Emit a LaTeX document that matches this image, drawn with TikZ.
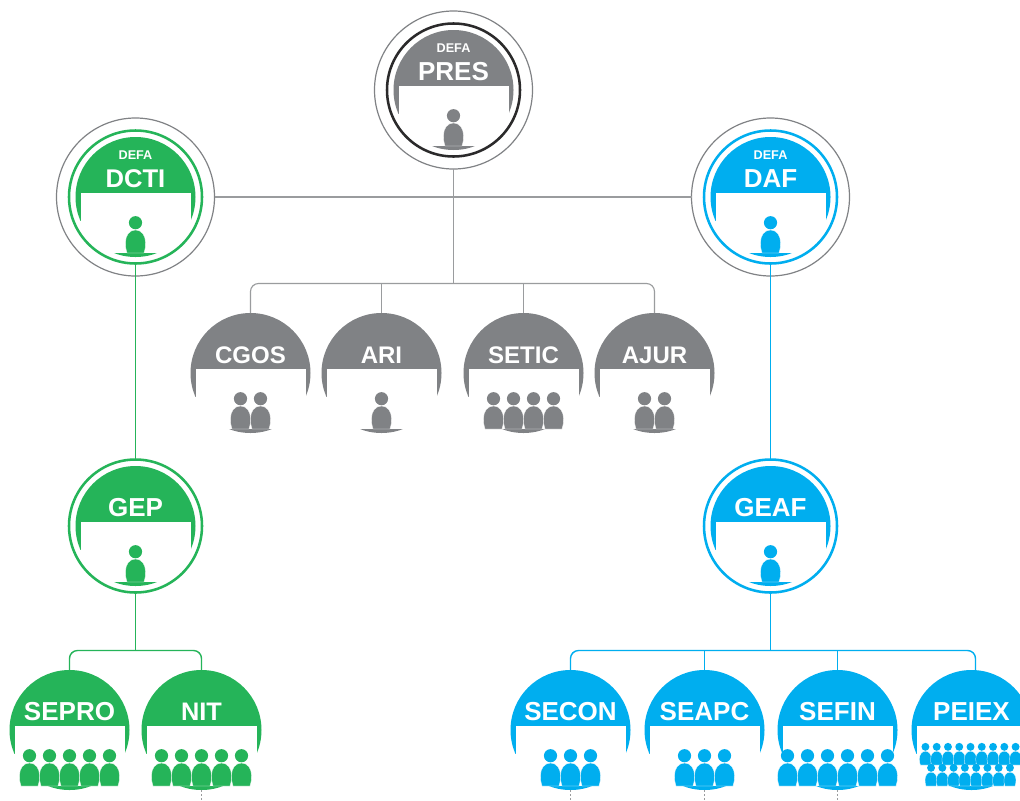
\documentclass[tikz,border=0pt]{standalone}
\usepackage{fontspec}
\setmainfont{Liberation Sans}
\definecolor{gr}{HTML}{808285}
\definecolor{lg}{HTML}{9A9C9E}
\definecolor{gn}{HTML}{25B459}
\definecolor{bl}{HTML}{00AEEF}
\definecolor{dk}{HTML}{2B2A2B}
\tikzset{
  disc/.style={circle,minimum size=90pt,inner sep=0pt,outer sep=0pt,fill=#1},
  ringa/.style={circle,minimum size=99.75pt,inner sep=0pt,outer sep=0pt,draw=#1,line width=1.9pt},
  ringb/.style={circle,minimum size=118.5pt,inner sep=0pt,outer sep=0pt,draw=#1,line width=0.9pt},
  lab/.style={anchor=base,text=white,inner sep=0pt,font=\bfseries\fontsize{#1}{#1}\selectfont},
  conn/.style={draw=#1,line width=0.85pt,rounded corners=6pt},
  conc/.style={draw=#1,line width=1.05pt,rounded corners=6pt},
  tick/.style={draw=lg,line width=0.6pt,dash pattern=on 1.2pt off 1.8pt}
}
% name, x, y, colour, label, font size (pt)
\newcommand{\unitdisc}[6]{%
  \node[disc=#4] (#1) at (#2,#3) {};
  \fill[white] (#2-55,#3-4) rectangle (#2+55,#3+24.1);
  \fill[white] (#2-62,#3+24) rectangle (#2+62,#3+56);
  \node[lab=#6] (#1-text) at (#2,#3-9.5) {#5};
}
\newcommand{\defa}[3]{\node[lab=9.5] (#1-defa) at (#2,#3-37.5) {DEFA};}
% cx, cut y, count, spacing, scale, colour
\newcommand{\crowd}[6]{%
  \foreach \i in {1,...,#3}{%
    \pgfmathsetmacro{\xx}{#1+(\i-1-(#3-1)/2)*#4}
    \begin{scope}[shift={(\xx,#2)},scale=#5]
      \fill[#6] (0,-30.3) circle[radius=6.6];
      \fill[#6,draw=white,line width=0.2pt] (-8.5,0) .. controls (-9.8,-3.5) and (-10,-7) .. (-10,-10.5)
        .. controls (-10,-17.5) and (-6,-23) .. (0,-23)
        .. controls (6,-23) and (10,-17.5) .. (10,-10.5)
        .. controls (10,-7) and (9.8,-3.5) .. (8.5,0) -- cycle;
    \end{scope}
  }%
}
\begin{document}
\begin{tikzpicture}[x=0.75pt,y=-0.75pt]
\clip (0,0) rectangle (1020,800);
\fill[white] (0,0) rectangle (1020,800);
% PRES
\unitdisc{pres}{453.5}{90}{gr}{PRES}{19.5}
\node[ringb=gr] (pres-out) at (453.5,90) {};
\node[ringa=dk] (pres-ring) at (453.5,90) {};
\defa{pres}{453.5}{90}
\crowd{453.5}{146}{1}{20}{1}{gr}
% DCTI
\unitdisc{dcti}{135.5}{197}{gn}{DCTI}{19.2}
\node[ringb=gr] (dcti-out) at (135.5,197) {};
\node[ringa=gn] (dcti-ring) at (135.5,197) {};
\defa{dcti}{135.5}{197}
\crowd{135.5}{253}{1}{20}{1}{gn}
% DAF
\unitdisc{daf}{770.5}{197}{bl}{DAF}{19.5}
\node[ringb=gr] (daf-out) at (770.5,197) {};
\node[ringa=bl] (daf-ring) at (770.5,197) {};
\defa{daf}{770.5}{197}
\crowd{770.5}{253}{1}{20}{1}{bl}
% row 2
\unitdisc{cgos}{250.5}{373}{gr}{CGOS}{18}
\crowd{250.5}{429}{2}{20}{1}{gr}
\unitdisc{ari}{381.5}{373}{gr}{ARI}{18}
\crowd{381.5}{429}{1}{20}{1}{gr}
\unitdisc{setic}{523.5}{373}{gr}{SETIC}{18}
\crowd{523.5}{429}{4}{20}{1}{gr}
\unitdisc{ajur}{654.5}{373}{gr}{AJUR}{18}
\crowd{654.5}{429}{2}{20}{1}{gr}
% GEP GEAF
\unitdisc{gep}{135.5}{526}{gn}{GEP}{19.5}
\node[ringa=gn] (gep-ring) at (135.5,526) {};
\crowd{135.5}{582}{1}{20}{1}{gn}
\unitdisc{geaf}{770.5}{526}{bl}{GEAF}{19.5}
\node[ringa=bl] (geaf-ring) at (770.5,526) {};
\crowd{770.5}{582}{1}{20}{1}{bl}
% bottom row
\unitdisc{sepro}{69.5}{730}{gn}{SEPRO}{19.5}
\crowd{69.5}{786}{5}{20}{1}{gn}
\unitdisc{nit}{201.5}{730}{gn}{NIT}{19}
\crowd{201.5}{786}{5}{20}{1}{gn}
\unitdisc{secon}{570.5}{730}{bl}{SECON}{19.5}
\crowd{570.5}{786}{3}{20}{1}{bl}
\unitdisc{seapc}{704.5}{730}{bl}{SEAPC}{19.5}
\crowd{704.5}{786}{3}{20}{1}{bl}
\unitdisc{sefin}{837.5}{730}{bl}{SEFIN}{19.5}
\crowd{837.5}{786}{6}{20}{1}{bl}
\unitdisc{peiex}{971.5}{730}{bl}{PEIEX}{19.5}
\crowd{970.5}{765}{9}{11.27}{0.6}{bl}
\crowd{970.5}{786}{8}{11.27}{0.6}{bl}
% connectors
\coordinate (busg) at (453.5,283.5);
\coordinate (busgn) at (135.5,650.5);
\coordinate (busbl) at (770.5,650.5);
\draw[conn=lg] (dcti-out.east) -- (daf-out.west);
\draw[conn=lg] (pres-out.south) -- (busg);
\draw[conn=lg] (cgos.north) |- (busg) -| (ajur.north);
\draw[conn=lg] (ari.north) -- (ari.north |- busg);
\draw[conn=lg] (setic.north) -- (setic.north |- busg);
\draw[conc=gn] (dcti-ring.south) -- (gep-ring.north);
\draw[conc=bl] (daf-ring.south) -- (geaf-ring.north);
\draw[conc=gn] (gep-ring.south) -- (busgn);
\draw[conc=bl] (geaf-ring.south) -- (busbl);
\draw[conc=gn] (sepro.north) |- (busgn) -| (nit.north);
\draw[conc=bl] (secon.north) |- (busbl) -| ([xshift=3pt]peiex.north);
\draw[conc=bl] (seapc.north) -- (seapc.north |- busbl);
\draw[conc=bl] (sefin.north) -- (sefin.north |- busbl);
\coordinate (endnit) at ([yshift=-7.5pt]nit.south);
\coordinate (endsecon) at ([yshift=-7.5pt]secon.south);
\coordinate (endseapc) at ([yshift=-7.5pt]seapc.south);
\coordinate (endsefin) at ([yshift=-7.5pt]sefin.south);
\draw[tick] (nit.south) -- (endnit);
\draw[tick] (secon.south) -- (endsecon);
\draw[tick] (seapc.south) -- (endseapc);
\draw[tick] (sefin.south) -- (endsefin);
\end{tikzpicture}
\end{document}
